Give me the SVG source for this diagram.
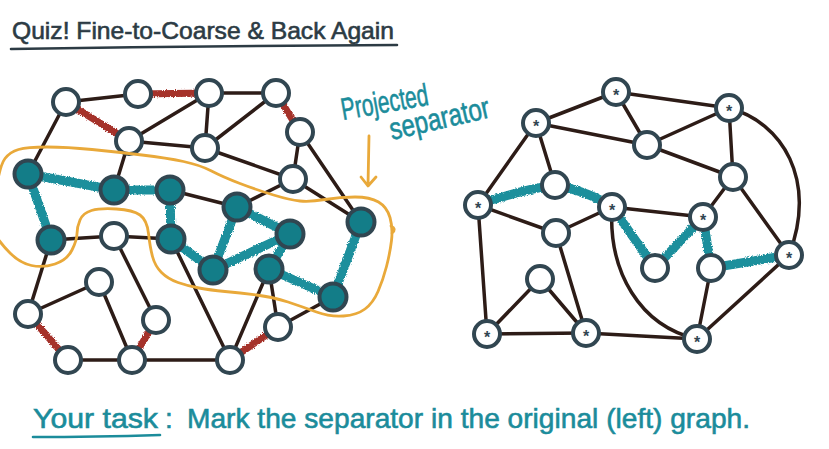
<svg xmlns="http://www.w3.org/2000/svg" width="829" height="449" viewBox="0 0 829 449">
<defs>
<filter id="rough" x="-10%" y="-10%" width="120%" height="120%">
<feTurbulence type="fractalNoise" baseFrequency="0.9" numOctaves="2" seed="3" result="n"/>
<feDisplacementMap in="SourceGraphic" in2="n" scale="3.5" xChannelSelector="R" yChannelSelector="G"/>
</filter>
<style>
.e{stroke:#2d1c17;stroke-width:3.5;stroke-linecap:round;fill:none}
.r{stroke:#a5302b;stroke-width:7;stroke-linecap:butt;fill:none}
.t{stroke:#1c8f9c;stroke-width:9;stroke-linecap:butt;fill:none}
.n{fill:#ffffff;stroke:#314651;stroke-width:4}
.tn{fill:#137d88;stroke:#314651;stroke-width:4}
.star{font-family:"Liberation Sans",Arial,sans-serif;font-size:16px;font-weight:bold;fill:#314651;text-anchor:middle}
.hand{font-family:"Liberation Sans",Arial,sans-serif}
.teal{fill:#1b8c9b;stroke:#1b8c9b;stroke-width:0.6}
.orange{stroke:#e9a93a;stroke-width:2.8;fill:none;stroke-linecap:round;stroke-linejoin:round}
</style>
</defs>
<rect width="829" height="449" fill="#ffffff"/>

<!-- Title -->
<text class="hand" x="12" y="39" font-size="24" fill="#2c3b44" stroke="#2c3b44" stroke-width="0.6" textLength="382" lengthAdjust="spacingAndGlyphs">Quiz! Fine-to-Coarse &amp; Back Again</text>
<path d="M11,49 Q200,46 397,45" stroke="#2c3b44" stroke-width="2.6" fill="none" stroke-linecap="round"/>

<g id="connectors">
<!-- left graph: dark edges -->
<line class="e" x1="66" y1="102" x2="138" y2="94"/>
<line class="e" x1="209" y1="93" x2="276" y2="93"/>
<line class="e" x1="129" y1="141" x2="209" y2="93"/>
<line class="e" x1="129" y1="141" x2="205" y2="148"/>
<line class="e" x1="209" y1="93" x2="205" y2="148"/>
<line class="e" x1="276" y1="93" x2="205" y2="148"/>
<line class="e" x1="300" y1="132" x2="293" y2="179"/>
<line class="e" x1="205" y1="148" x2="293" y2="179"/>
<line class="e" x1="66" y1="102" x2="28" y2="174"/>
<line class="e" x1="129" y1="141" x2="114" y2="190"/>
<line class="e" x1="300" y1="132" x2="361" y2="222"/>
<line class="e" x1="293" y1="179" x2="237" y2="207"/>
<line class="e" x1="293" y1="179" x2="361" y2="222"/>
<line class="e" x1="170" y1="190" x2="237" y2="207"/>
<line class="e" x1="51" y1="240" x2="114" y2="236"/>
<line class="e" x1="114" y1="236" x2="171" y2="239"/>
<line class="e" x1="51" y1="240" x2="28" y2="314"/>
<line class="e" x1="28" y1="314" x2="99" y2="282"/>
<line class="e" x1="99" y1="282" x2="132" y2="360"/>
<line class="e" x1="114" y1="236" x2="156" y2="320"/>
<line class="e" x1="68" y1="360" x2="132" y2="360"/>
<line class="e" x1="132" y1="360" x2="230" y2="360"/>
<line class="e" x1="171" y1="239" x2="230" y2="360"/>
<line class="e" x1="230" y1="360" x2="269" y2="269"/>
<line class="e" x1="269" y1="269" x2="278" y2="327"/>
<line class="e" x1="278" y1="327" x2="333" y2="297"/>
<!-- left graph: red edges -->
<g filter="url(#rough)">
<line class="r" x1="138" y1="94" x2="209" y2="93"/>
<line class="r" x1="66" y1="102" x2="129" y2="141"/>
<line class="r" x1="276" y1="93" x2="300" y2="132"/>
<line class="r" x1="28" y1="314" x2="68" y2="360"/>
<line class="r" x1="132" y1="360" x2="156" y2="320"/>
<line class="r" x1="230" y1="360" x2="278" y2="327"/>
</g>
<!-- left graph: teal separator edges -->
<g filter="url(#rough)">
<line class="t" x1="28" y1="174" x2="114" y2="190"/>
<line class="t" x1="114" y1="190" x2="170" y2="190"/>
<line class="t" x1="28" y1="174" x2="51" y2="240"/>
<line class="t" x1="170" y1="190" x2="171" y2="239"/>
<line class="t" x1="171" y1="239" x2="213" y2="270"/>
<line class="t" x1="237" y1="207" x2="213" y2="270"/>
<line class="t" x1="237" y1="207" x2="290" y2="234"/>
<line class="t" x1="213" y1="270" x2="290" y2="234"/>
<line class="t" x1="290" y1="234" x2="269" y2="269"/>
<line class="t" x1="269" y1="269" x2="333" y2="297"/>
<line class="t" x1="361" y1="222" x2="333" y2="297"/>
</g>

<!-- right graph: dark edges -->
<line class="e" x1="536" y1="123" x2="616" y2="92"/>
<line class="e" x1="616" y1="92" x2="729" y2="108"/>
<line class="e" x1="616" y1="92" x2="647" y2="145"/>
<line class="e" x1="536" y1="123" x2="647" y2="145"/>
<line class="e" x1="647" y1="145" x2="729" y2="108"/>
<line class="e" x1="647" y1="145" x2="733" y2="177"/>
<line class="e" x1="729" y1="108" x2="733" y2="177"/>
<path class="e" d="M729,108 C782,122 818,180 789,255"/>
<line class="e" x1="536" y1="123" x2="555" y2="185"/>
<line class="e" x1="536" y1="123" x2="478" y2="205"/>
<line class="e" x1="478" y1="205" x2="556" y2="233"/>
<line class="e" x1="556" y1="233" x2="612" y2="207"/>
<line class="e" x1="612" y1="207" x2="703" y2="217"/>
<line class="e" x1="733" y1="177" x2="703" y2="217"/>
<line class="e" x1="733" y1="177" x2="789" y2="255"/>
<line class="e" x1="478" y1="205" x2="487" y2="334"/>
<line class="e" x1="556" y1="233" x2="586" y2="333"/>
<line class="e" x1="540" y1="279" x2="487" y2="334"/>
<line class="e" x1="540" y1="279" x2="586" y2="333"/>
<line class="e" x1="487" y1="334" x2="586" y2="333"/>
<line class="e" x1="586" y1="333" x2="697" y2="339"/>
<line class="e" x1="711" y1="268" x2="697" y2="339"/>
<line class="e" x1="789" y1="255" x2="697" y2="339"/>
<path class="e" d="M612,207 C608,272 640,326 697,339"/>
<!-- right graph: teal edges -->
<g filter="url(#rough)">
<path class="t" d="M478,205 Q520,190 555,185"/>
<path class="t" d="M555,185 Q590,192 612,207"/>
<line class="t" x1="612" y1="207" x2="655" y2="268"/>
<line class="t" x1="655" y1="268" x2="703" y2="217"/>
<line class="t" x1="703" y1="217" x2="711" y2="268"/>
<line class="t" x1="711" y1="268" x2="789" y2="255"/>
</g>
</g>

<!-- left graph nodes -->
<g id="nA"><circle class="n" cx="66" cy="102" r="13"/></g>
<g id="nB"><circle class="n" cx="138" cy="94" r="13"/></g>
<g id="nC"><circle class="n" cx="209" cy="93" r="13"/></g>
<g id="nD"><circle class="n" cx="276" cy="93" r="13"/></g>
<g id="nE"><circle class="n" cx="129" cy="141" r="13"/></g>
<g id="nF"><circle class="n" cx="205" cy="148" r="13"/></g>
<g id="nG"><circle class="n" cx="300" cy="132" r="13"/></g>
<g id="nH"><circle class="n" cx="293" cy="179" r="13"/></g>
<g id="nT1"><circle class="tn" cx="28" cy="174" r="13.5"/></g>
<g id="nT2"><circle class="tn" cx="114" cy="190" r="13.5"/></g>
<g id="nT3"><circle class="tn" cx="170" cy="190" r="13.5"/></g>
<g id="nT4"><circle class="tn" cx="237" cy="207" r="13.5"/></g>
<g id="nT5"><circle class="tn" cx="290" cy="234" r="13.5"/></g>
<g id="nT6"><circle class="tn" cx="361" cy="222" r="13.5"/></g>
<g id="nT7"><circle class="tn" cx="51" cy="240" r="13.5"/></g>
<g id="nT8"><circle class="tn" cx="171" cy="239" r="13.5"/></g>
<g id="nT9"><circle class="tn" cx="213" cy="270" r="13.5"/></g>
<g id="nT10"><circle class="tn" cx="269" cy="269" r="13.5"/></g>
<g id="nT11"><circle class="tn" cx="333" cy="297" r="13.5"/></g>
<g id="nW1"><circle class="n" cx="114" cy="236" r="13"/></g>
<g id="nW2"><circle class="n" cx="99" cy="282" r="13"/></g>
<g id="nW3"><circle class="n" cx="28" cy="314" r="13"/></g>
<g id="nW4"><circle class="n" cx="156" cy="320" r="13"/></g>
<g id="nW5"><circle class="n" cx="68" cy="360" r="13"/></g>
<g id="nW6"><circle class="n" cx="132" cy="360" r="13"/></g>
<g id="nW7"><circle class="n" cx="230" cy="360" r="13"/></g>
<g id="nW8"><circle class="n" cx="278" cy="327" r="13"/></g>

<!-- right graph nodes -->
<g id="r1"><circle class="n" cx="616" cy="92" r="13"/><text class="star" x="616" y="101">*</text></g>
<g id="r2"><circle class="n" cx="729" cy="108" r="13"/><text class="star" x="729" y="117">*</text></g>
<g id="r3"><circle class="n" cx="536" cy="123" r="13"/><text class="star" x="536" y="132">*</text></g>
<g id="r4"><circle class="n" cx="647" cy="145" r="13"/></g>
<g id="r5"><circle class="n" cx="733" cy="177" r="13"/></g>
<g id="r6"><circle class="n" cx="555" cy="185" r="13"/></g>
<g id="r7"><circle class="n" cx="478" cy="205" r="13"/><text class="star" x="478" y="214">*</text></g>
<g id="r8"><circle class="n" cx="612" cy="207" r="13"/><text class="star" x="612" y="216">*</text></g>
<g id="r9"><circle class="n" cx="703" cy="217" r="13"/><text class="star" x="703" y="226">*</text></g>
<g id="r10"><circle class="n" cx="556" cy="233" r="13"/></g>
<g id="r11"><circle class="n" cx="655" cy="268" r="13"/></g>
<g id="r12"><circle class="n" cx="711" cy="268" r="13"/></g>
<g id="r13"><circle class="n" cx="789" cy="255" r="13"/><text class="star" x="789" y="264">*</text></g>
<g id="r14"><circle class="n" cx="540" cy="279" r="13"/></g>
<g id="r15"><circle class="n" cx="487" cy="334" r="13"/><text class="star" x="487" y="343">*</text></g>
<g id="r16"><circle class="n" cx="586" cy="333" r="13"/><text class="star" x="586" y="342">*</text></g>
<g id="r17"><circle class="n" cx="697" cy="339" r="13"/><text class="star" x="697" y="348">*</text></g>

<!-- orange projected separator outline -->
<path class="orange" d="M-8,215 L-4,190 Q0,165 5,158.5 Q10,152 18.5,149.5 Q27,147 47,147 Q67,147 92,149.5 Q117,152 142,155 Q167,158 183.5,161.5 Q200,165 211.5,171 Q223,177 240,183.5 Q257,190 273.5,195 Q290,200 300,201 Q310,202 325,199.5 Q340,197 355,197 Q370,197 378.5,202 Q387,207 390,217.5 Q393,228 391.5,240.5 Q390,253 386.5,266.5 Q383,280 378,291.5 Q373,303 365,309 Q357,315 343.5,316 Q330,317 316.5,312 Q303,307 288,302 Q273,297 256.5,295 Q240,293 225,291.5 Q210,290 199,288 Q188,286 178,282.5 Q168,279 161.5,272.5 Q155,266 152.5,256.5 Q150,247 148.5,233.5 Q147,220 140,215 Q133,210 116.5,209 Q100,208 91.5,210.5 Q83,213 80,220 Q77,227 77,233.5 Q77,240 72,250 Q67,260 55,264 Q43,268 31.5,265.5 Q20,263 10,253 Q0,243 -8,230"/>
<path class="orange" d="M391,226 Q397,229 392,233"/>
<!-- arrow -->
<path class="orange" d="M369,136 L368,185 M361,177 L368,186 L376,177"/>

<!-- label -->
<text class="hand teal" transform="translate(343,120) rotate(-10)" font-size="31" textLength="88" lengthAdjust="spacingAndGlyphs">Projected</text>
<text class="hand teal" transform="translate(392,140) rotate(-13)" font-size="31" textLength="102" lengthAdjust="spacingAndGlyphs">separator</text>

<!-- task -->
<text class="hand teal" x="33" y="428" font-size="28" textLength="125" lengthAdjust="spacingAndGlyphs">Your task</text>
<path d="M33,437 Q95,437 160,435" stroke="#1b8c9b" stroke-width="2.6" fill="none" stroke-linecap="round"/>
<text class="hand teal" x="165" y="428" font-size="28">:</text>
<text class="hand teal" x="187" y="428" font-size="28" textLength="563" lengthAdjust="spacingAndGlyphs">Mark the separator in the original (left) graph.</text>
</svg>
